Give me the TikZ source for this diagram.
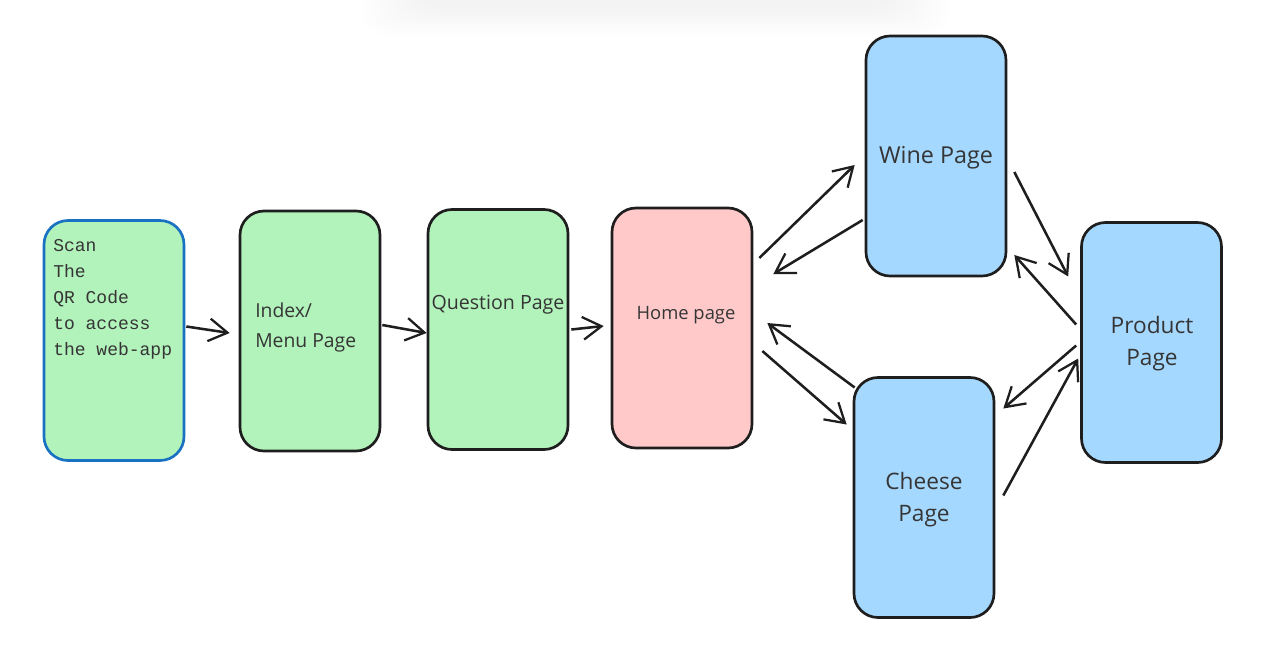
\documentclass[tikz,border=0pt]{standalone}
\usepackage{fontspec}
\setmainfont{Open Sans}
\newfontfamily\handfont{Liberation Mono}
\usetikzlibrary{arrows.meta,calc}
\definecolor{greenfill}{HTML}{B2F2BB}
\definecolor{redfill}{HTML}{FFC9C9}
\definecolor{bluefill}{HTML}{A5D8FF}
\definecolor{ink}{HTML}{1E1E1E}
\definecolor{blueline}{HTML}{1971C2}
\tikzset{
  pagebox/.style={draw=ink, line width=2pt, rounded corners=18pt, minimum width=105pt, minimum height=180pt, inner sep=0pt},
  lbl/.style={text=ink!90, inner sep=0pt, font=\fontsize{13}{18}\selectfont},
  conn/.style={draw=ink, line width=1.9pt, -{Straight Barb[length=14pt,width=17pt,line width=1.7pt]}},
  shadowlayer/.style={fill=black, fill opacity=0.005, rounded corners=20pt},
}
\begin{document}
\begin{tikzpicture}[x=0.75pt,y=-0.75pt]
\useasboundingbox (0,0) rectangle (1279,669);
\fill[white] (0,0) rectangle (1279,669);
% faint shadow at top
\foreach \i in {0,...,11} {
  \fill[shadowlayer] (360+\i*5,-40) rectangle (950-\i*5,36-\i*2.5);
}
% boxes
\node[pagebox, draw=blueline, fill=greenfill] (scan) at (114,340.5) {};
\node[pagebox, fill=greenfill] (index) at (310,331) {};
\node[pagebox, fill=greenfill] (question) at (498,329.5) {};
\node[pagebox, fill=redfill] (home) at (682,328) {};
\node[pagebox, fill=bluefill] (wine) at (936,156) {};
\node[pagebox, fill=bluefill] (product) at (1151.5,342.5) {};
\node[pagebox, fill=bluefill] (cheese) at (924,497.5) {};
% texts
\node[lbl, anchor=north west, align=left, font=\handfont\fontsize{13.5}{19.5}\selectfont] (scantext) at (53,239) {Scan\\The\\QR Code\\to access\\the web-app};
\node[lbl, anchor=west, align=left, font=\fontsize{14.5}{22.5}\selectfont] (indextext) at (255,327) {Index/\\Menu Page};
\node[lbl, font=\fontsize{14.7}{18}\selectfont] (questiontext) at (498,305) {Question Page};
\node[lbl, font=\fontsize{13.8}{18}\selectfont] (hometext) at (686,315) {Home page};
\node[lbl, font=\fontsize{17.5}{24}\selectfont] (winetext) at (936,158) {Wine Page};
\node[lbl, align=center, font=\fontsize{17}{24}\selectfont] (producttext) at (1152,344) {Product\\Page};
\node[lbl, align=center, font=\fontsize{17}{24}\selectfont] (cheesetext) at (924,500) {Cheese\\Page};
% connectors
\draw[conn] ([shift={(1,-14)}]scan.east) -- ([shift={(-9,2)}]index.west);
\draw[conn] ([shift={(1,-6)}]index.east) -- ([shift={(0,3.5)}]question.west);
\draw[conn] ([shift={(2,0)}]question.east) -- ([shift={(-7,-2)}]home.west);
\draw[conn] ([shift={(6,-70)}]home.east) -- ([shift={(-10,9)}]wine.west);
\draw[conn] ([shift={(-2,64)}]wine.west) -- ([shift={(20,-54)}]home.east);
\draw[conn] ([shift={(9,23)}]home.east) -- ([shift={(-6,-73)}]cheese.west);
\draw[conn] ([shift={(2,-110)}]cheese.west) -- ([shift={(14,-5)}]home.east);
\draw[conn] ([shift={(7,16)}]wine.east) -- ([shift={(-12,-66)}]product.west);
\draw[conn] ([shift={(-4,-18)}]product.west) -- ([shift={(7,99)}]wine.east);
\draw[conn] ([shift={(-4,3)}]product.west) -- ([shift={(8,-89)}]cheese.east);
\draw[conn] ([shift={(8,-2)}]cheese.east) -- ([shift={(-2,16)}]product.west);
\end{tikzpicture}
\end{document}
